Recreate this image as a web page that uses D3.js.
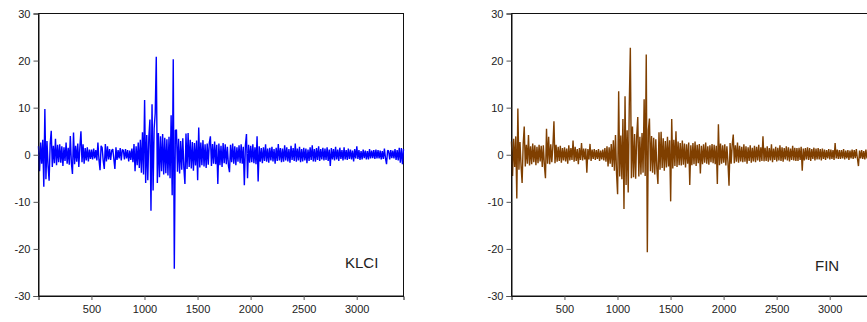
<!DOCTYPE html>
<html>
<head>
<meta charset="utf-8">
<script src="https://cdn.jsdelivr.net/npm/d3@7"></script>
<style>
  body { margin: 0; background: #fff; }
  svg text { font-family: Arial, "Liberation Sans", sans-serif; fill: #222; }
</style>
</head>
<body>
<div id="chart"></div>
<script>
// observations are sampled every 10th day, starting at obs 1
const OBS_START = 1;
const OBS_STEP = 10;

const yTicks = [-30, -20, -10, 0, 10, 20, 30];
const xTicks = [500, 1000, 1500, 2000, 2500, 3000];

const klci = [
  1.8, -3.5, 2.6, -1.9, 3.2, -6.8, 9.7, -5.2, 2.9, -2.4,
  -5.5, 2.3, 5.1, -2.6, 1.9, -1.8, 3.4, -2.2, 2.1, -1.6,
  2.2, -1.7, 1.8, -2.4, 1.6, -1.3, 2.6, -1.9, 1.5, -2.1,
  4.0, -1.8, -4.1, 4.7, -2.0, 1.9, -1.5, 2.4, -2.6, 1.7,
  5.0, -1.6, 2.2, -1.9, 1.4, -1.2, 1.6, -1.4, 1.1, -0.9,
  1.1, -1.0, 1.3, -0.8, 1.0, -1.2, 2.6, -1.1, -3.3, 1.9,
  1.5, -1.3, -3.0, 2.3, -1.4, 1.8, -1.0, 1.2, -1.1, 0.9,
  1.2, -0.9, -3.0, 1.6, -1.1, 1.0, -0.8, 1.4, -1.2, 1.1,
  0.9, -1.0, 1.2, -0.8, 1.0, -1.4, 0.9, -1.1, 1.3, -1.6,
  2.3, -3.5, 1.8, -2.2, 2.6, -2.8, 3.2, -3.8, 4.8, -4.2,
  11.6, -6.0, 4.2, -5.4, 3.8, 7.5, -11.9, 10.7, -7.6, 5.6,
  8.8, 20.8, -6.0, 4.6, -4.8, 3.9, -3.5, 4.4, -4.2, 3.6,
  -3.9, 3.3, -4.4, 3.8, -5.0, 8.4, -8.6, 20.3, -24.2, 5.2,
  5.3, -3.6, 3.4, -4.0, 2.9, -3.2, 3.5, -2.8, -6.2, 4.5,
  -3.0, 4.6, -2.6, 3.2, -2.9, 2.7, -3.4, 2.5, -2.3, 3.0,
  -5.4, 5.8, -2.7, 2.6, -2.2, 3.1, -2.5, 2.2, -2.8, 2.4,
  -2.1, 2.6, 3.9, -2.4, 2.3, -1.9, 2.8, -2.0, 2.1, -6.2,
  2.4, -2.2, 1.9, -2.6, 2.5, -1.8, 2.2, -2.0, 1.7, -2.3,
  -3.7, 2.1, -1.6, 2.4, -1.9, 1.8, -2.2, 1.6, -1.5, 2.0,
  -1.8, 2.2, -1.9, 1.7, -6.5, 2.0, 4.4, -5.0, 2.1, -1.7,
  1.9, -1.6, 2.2, -1.8, 1.6, -2.0, 3.9, -5.7, 1.8, -1.5,
  1.4, -1.8, 1.6, -1.3, 2.2, -1.5, 1.3, -1.7, 1.5, -1.2,
  1.7, -1.4, 1.2, -1.9, 1.5, -1.3, 2.3, -1.2, 1.4, -1.6,
  1.3, -1.5, 2.0, -1.2, 1.6, -1.4, 1.2, -1.7, 1.9, -1.1,
  1.4, -1.3, 2.4, -1.5, 1.3, -1.2, 1.7, -1.6, 1.2, -1.4,
  1.5, -1.2, 1.3, -1.8, 1.1, -1.3, 1.6, -1.1, 2.0, -1.4,
  1.2, -1.5, 1.4, -1.1, 1.8, -1.3, 1.2, -1.0, 1.5, -1.2,
  1.3, -1.1, 1.6, -1.3, 1.1, -2.4, 1.4, -1.0, 1.2, -1.2,
  1.7, -1.0, 1.1, -1.3, 1.5, -0.9, 1.0, -1.2, 1.6, -1.0,
  1.0, -1.1, 1.3, -0.9, 1.1, -1.0, 0.9, -1.4, 1.2, -0.8,
  1.8, -0.9, 1.0, -1.1, 0.8, -1.0, 1.1, -0.7, 0.9, -1.0,
  0.8, -1.0, 1.2, -0.8, 0.9, -0.7, 1.0, -0.9, 1.1, -0.8,
  1.0, -0.8, 0.9, -1.0, 0.8, -0.9, 1.3, -0.7, -2.0, 0.9,
  0.8, -1.0, 1.0, -0.7, 0.9, -0.8, 1.2, -1.1, 1.0, -1.2,
  1.5, -1.7, 1.4, -2.0, 1.2
];

const fin = [
  2.8, -4.5, 3.4, -2.6, 3.9, -9.3, 9.8, -3.2, 2.7, -2.4,
  -6.0, 2.2, 6.0, -2.5, 2.1, -1.9, 4.2, -2.3, 1.8, -2.0,
  2.4, -1.6, 2.0, -2.2, 1.7, -1.8, 2.1, -1.4, 1.9, -2.6,
  2.0, -2.3, -5.0, 5.5, -1.9, 3.8, -2.0, 2.2, -1.6, 1.8,
  7.1, -1.8, 2.1, -1.5, 1.7, -1.3, 1.9, -1.7, 1.4, -1.2,
  1.6, -1.4, 1.3, -1.9, 2.0, -1.2, 1.4, -1.1, 3.0, -1.5,
  1.7, -1.3, 1.2, -2.0, 1.4, -1.1, 2.5, -1.2, 1.3, -1.0,
  1.3, -3.8, 1.2, -1.0, 2.3, -1.3, 1.1, -0.9, 1.2, -1.1,
  1.0, -0.9, 1.2, -1.3, 0.9, -1.0, 1.1, -1.2, 1.4, -1.5,
  1.8, -2.5, 1.6, -1.9, 2.3, -2.6, 3.1, -3.4, 4.2, -4.0,
  -8.4, 13.5, -4.6, 4.1, -5.2, 7.6, -11.5, 12.4, -6.4, 5.2,
  -8.0, 10.7, 22.7, -5.0, 6.0, -4.8, 4.4, -5.1, 3.9, 8.0,
  -4.6, 3.8, -4.2, 4.6, -3.8, 11.8, -4.5, 21.3, -20.7, 5.3,
  7.7, -3.5, 4.0, -3.8, 3.6, -4.2, 3.3, -3.0, -6.2, 4.8,
  -3.2, 4.9, -2.8, 3.5, -3.4, 2.9, -2.7, 3.8, -2.5, 3.1,
  -9.9, 7.6, -2.9, 3.2, -2.4, 5.0, -2.6, 2.8, -2.2, 2.5,
  -2.3, 3.0, -2.1, 2.4, -2.7, 2.2, -1.9, 2.6, -6.4, 2.0,
  -2.2, 2.5, -2.0, 2.8, -2.4, 2.1, -1.8, 2.3, -4.0, 1.9,
  -2.0, 2.2, -1.7, 2.6, -1.9, 1.8, -2.1, 2.0, -1.6, 2.3,
  -1.8, 2.1, -2.0, 1.9, -6.2, 6.5, -2.2, 2.4, -1.9, 2.0,
  -1.7, 2.2, -2.3, 1.8, -1.6, -6.6, 2.5, -1.9, 2.1, 4.3,
  -1.8, 2.0, -1.5, 2.6, -1.7, 1.9, -1.4, 1.7, -1.6, 2.2,
  -1.5, 1.8, -1.9, 1.6, -1.3, 2.0, -1.7, 1.5, -1.4, 1.9,
  -1.6, 1.7, -1.2, 2.1, -1.5, 1.6, -1.3, 3.9, -1.4, 1.5,
  -1.3, 1.8, -1.5, 1.4, -1.2, 2.2, -1.6, 1.3, -1.1, 1.7,
  -1.4, 1.5, -1.2, 2.0, -1.3, 1.6, -1.5, 1.4, -1.0, 1.8,
  -1.2, 1.6, -1.4, 1.3, -1.1, 1.9, -1.2, 1.5, -1.3, 1.4,
  -1.3, 1.5, -1.1, 1.7, -3.4, 1.3, -1.2, 1.4, -1.0, 1.6,
  -1.1, 1.4, -1.3, 1.2, -0.9, 1.5, -1.2, 1.3, -1.0, 1.4,
  -1.0, 1.2, -1.2, 1.3, -0.9, 1.1, -1.1, 1.0, -0.8, 1.2,
  -1.0, 1.1, -0.9, 1.0, -1.1, 2.5, -0.8, 1.1, -0.9, 1.0,
  -0.9, 1.0, -0.8, 1.2, -1.0, 0.9, -0.8, 1.0, -1.1, 0.9,
  -0.8, 1.1, -0.9, 1.0, -0.7, 1.2, -0.8, -2.4, 0.9, -0.8,
  1.0, -0.9, 0.8, -1.0, 1.1, -0.8, 0.9, -0.7, 1.0, -0.9,
  0.8, -0.7, 1.0, -0.8, 0.9
];

const panels = [
  { name: 'KLCI', values: klci, color: '#0000ff', left: 38.5, labelX: 345, labelY: 268 },
  { name: 'FIN', values: fin, color: '#7f3f00', left: 511.5, labelX: 815, labelY: 271 }
];

const W = 867, H = 322;
const plotW = 365;
const plotTop = 13.5, plotBottom = 296;

const svg = d3.select('#chart')
  .append('svg')
  .attr('width', W)
  .attr('height', H);

for (const p of panels) {
  const obs = d3.range(p.values.length).map(i => OBS_START + i * OBS_STEP);

  const x = d3.scaleLinear()
    .domain([1, obs[obs.length - 1]])
    .range([p.left, p.left + plotW]);

  const y = d3.scaleLinear()
    .domain([-30, 30])
    .range([plotBottom, plotTop]);

  const g = svg.append('g');

  // frame
  g.append('rect')
    .attr('x', p.left)
    .attr('y', plotTop)
    .attr('width', plotW)
    .attr('height', plotBottom - plotTop)
    .attr('fill', 'none')
    .attr('stroke', '#111')
    .attr('stroke-width', 1);

  const line = d3.line()
    .x((d, i) => x(obs[i]))
    .y(d => y(d));

  g.append('path')
    .datum(p.values)
    .attr('fill', 'none')
    .attr('stroke', p.color)
    .attr('stroke-width', 1.4)
    .attr('stroke-linejoin', 'bevel')
    .attr('d', line);

  const yAxis = g.append('g')
    .attr('transform', 'translate(' + p.left + ',0)')
    .call(d3.axisLeft(y).tickValues(yTicks).tickSize(5).tickPadding(3)
      .tickFormat(d => String(d)));

  const xAxis = g.append('g')
    .attr('transform', 'translate(0,' + plotBottom + ')')
    .call(d3.axisBottom(x).tickValues(xTicks).tickSize(4).tickPadding(5)
      .tickFormat(d => String(d)));

  for (const ax of [xAxis, yAxis]) {
    ax.select('.domain').attr('stroke', '#111');
    ax.selectAll('.tick line').attr('stroke', '#555');
    ax.selectAll('.tick text')
      .style('font-family', 'Arial, "Liberation Sans", sans-serif')
      .style('font-size', '11px')
      .attr('fill', '#222');
  }

  g.append('text')
    .attr('x', p.labelX)
    .attr('y', p.labelY)
    .style('font-size', '15px')
    .text(p.name);
}
</script>
</body>
</html>
